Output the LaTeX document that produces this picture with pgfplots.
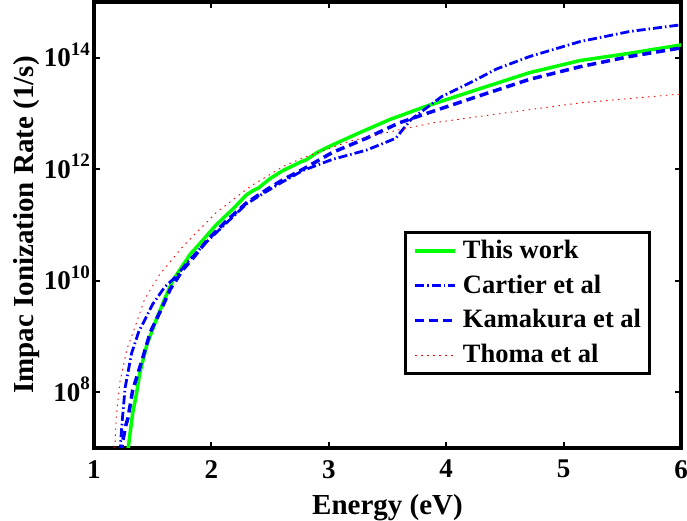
\documentclass[border=0pt]{standalone}
\usepackage{pgfplots}
\pgfplotsset{compat=1.18}
\usepackage{fontspec}
\setmainfont{Liberation Serif}
\newcommand{\tk}{\fontsize{27}{27}\selectfont\bfseries}
\newcommand{\pw}[1]{10\raisebox{0.42em}{\fontsize{19}{19}\selectfont #1}}
\definecolor{mgreen}{rgb}{0,1,0}
\begin{document}
\begin{tikzpicture}
\begin{axis}[name=ax, scale only axis, width=587pt, height=446pt,
  xmin=1, xmax=6, ymin=1e7, ymax=1e15, ymode=log,
  xtick={1,2,3,4,5,6}, xticklabels={1,2,3,4,5,6},
  ytick={1e8,1e10,1e12,1e14}, yticklabels={\pw{8},\pw{10},\pw{12},\pw{14}},
  yminorticks=false, xminorticks=false,
  tick align=inside, tick pos=both, major tick length=6pt,
  every tick/.style={black, line width=2pt},
  axis line style={line width=3.5pt},
  ticklabel style={font=\tk},
  xticklabel style={anchor=north, inner sep=0pt, yshift=-12pt},
  yticklabel style={anchor=base east, inner sep=0pt, xshift=-4pt, yshift=-9pt},
  xlabel={Energy (eV)}, ylabel={Impac Ionization Rate (1/s)},
  label style={font=\fontsize{29}{29}\selectfont\bfseries},
  xlabel style={at={(axis description cs:0.5,-0.1502)}, anchor=base, inner sep=0pt},
  ylabel style={at={(axis description cs:-0.1039,0.5)}, anchor=base, inner sep=0pt},
  legend style={at={(axis description cs:0.528,0.4865)}, anchor=north west,
    draw=black, line width=3pt, font=\fontsize{26.5}{26.5}\selectfont\bfseries,
    inner xsep=8pt, inner ysep=5pt,
    nodes={inner sep=0pt, text height=21pt, text depth=6pt, anchor=west},
    row sep=7.7pt, /tikz/every odd column/.append style={column sep=6pt}},
  legend cell align=left,
  legend image code/.code={\draw[#1] (0pt,0pt) -- (40pt,0pt);},
]
\addplot[mgreen, line width=3.5pt, solid] coordinates {
(1.285,7.9e6) (1.33,4.3e7) (1.36,8.9e7) (1.39,2.2e8) (1.45,7.1e8) (1.53,2.0e9)
(1.60,4.6e9) (1.67,1.0e10) (1.75,1.8e10) (1.82,3.0e10) (1.90,4.6e10) (2.04,1.0e11)
(2.19,2.0e11) (2.30,3.5e11) (2.36,4.2e11) (2.40,4.6e11) (2.50,6.8e11) (2.61,9.5e11)
(2.70,1.17e12) (2.76,1.35e12) (2.81,1.48e12) (2.90,2.0e12) (3.01,2.6e12) (3.26,4.5e12)
(3.52,7.8e12) (3.83,1.35e13) (4.29,2.8e13) (4.71,5.4e13) (5.14,8.9e13) (5.56,1.2e14) (6.0,1.7e14)};
\addlegendentry{This work}
\addplot[blue, line width=2.8pt, dash pattern=on 9pt off 3pt on 1.5pt off 3pt] coordinates {
(1.22,7.9e6) (1.24,3.0e7) (1.265,1.2e8) (1.32,5.0e8) (1.38,1.2e9) (1.50,3.8e9)
(1.60,7.6e9) (1.70,1.2e10) (1.80,2.2e10) (1.96,5.0e10) (2.13,1.1e11) (2.30,2.4e11)
(2.47,4.0e11) (2.61,6.0e11) (2.78,9.5e11) (3.03,1.5e12) (3.32,2.2e12) (3.48,3.0e12)
(3.57,3.6e12) (3.70,7.8e12) (3.96,2.0e13) (4.23,3.8e13) (4.43,6.3e13) (4.71,1.05e14)
(5.14,1.95e14) (5.56,2.95e14) (6.0,3.9e14)};
\addlegendentry{Cartier et al}
\addplot[blue, line width=3.5pt, dash pattern=on 9pt off 5pt] coordinates {
(1.235,7.9e6) (1.24,1.15e7) (1.27,2.5e7) (1.29,3.5e7) (1.33,1.1e8) (1.41,3.8e8)
(1.48,1.2e9) (1.58,3.3e9) (1.65,7.1e9) (1.76,1.6e10) (1.86,2.8e10) (1.96,5.2e10)
(2.13,1.2e11) (2.30,2.5e11) (2.47,4.3e11) (2.61,6.5e11) (2.78,1.0e12) (3.03,2.0e12)
(3.32,3.6e12) (3.60,6.8e12) (3.89,1.1e13) (4.29,2.1e13) (4.71,4.1e13) (5.14,6.9e13)
(5.56,1.05e14) (6.0,1.5e14)};
\addlegendentry{Kamakura et al}
\addplot[red, line width=0.9pt, dash pattern=on 1.5pt off 4.5pt] coordinates {
(1.16,7.9e6) (1.18,1.26e7) (1.19,3.7e7) (1.22,1.5e8) (1.28,5.9e8) (1.35,1.5e9)
(1.43,4.6e9) (1.56,1.3e10) (1.76,4.2e10) (2.04,1.66e11) (2.33,4.9e11) (2.61,1.12e12)
(2.78,1.6e12) (3.18,3.2e12) (3.60,5.1e12) (3.89,6.8e12) (4.29,8.9e12) (5.14,1.55e13)
(5.96,2.2e13) (6.0,2.22e13)};
\addlegendentry{Thoma et al}
\end{axis}
\pgfresetboundingbox
\path (ax.south west) ++(-94pt,-73pt) rectangle ++(687pt,521pt);
\end{tikzpicture}
\end{document}
